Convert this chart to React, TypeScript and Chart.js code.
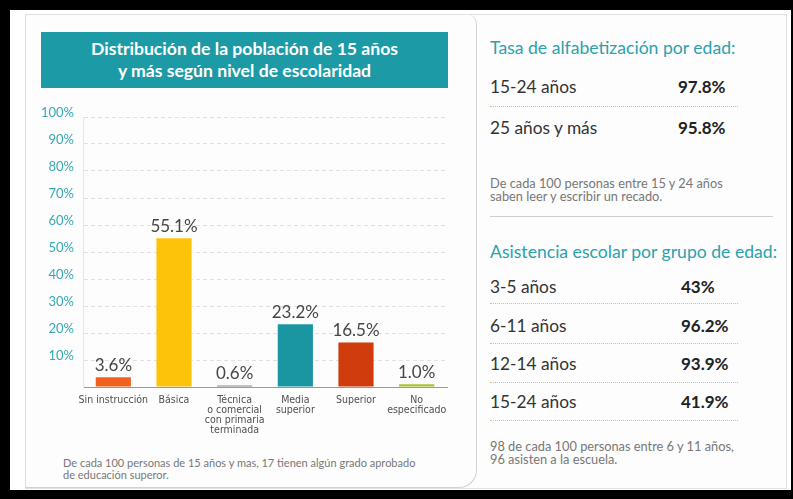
import React, { useEffect, useRef } from "react";
import { Chart, registerables } from "chart.js";

Chart.register(...registerables);

// ---- Data ----
const categories: string[][] = [
  ["Sin instrucción"],
  ["Básica"],
  ["Técnica", "o comercial", "con primaria", "terminada"],
  ["Media", "superior"],
  ["Superior"],
  ["No", "especificado"],
];
const shares: number[] = [3.6, 55.1, 0.6, 23.2, 16.5, 1.0];
const barColors: string[] = ["#f1601f", "#fdc30a", "#8a8a8a", "#1a96a3", "#d03c0b", "#a8c42c"];
const yTickValues: number[] = [10, 20, 30, 40, 50, 60, 70, 80, 90, 100];

const chartTitle: string[] = ["Distribución de la población de 15 años", "y más según nivel de escolaridad"];
const chartNote: string[] = [
  "De cada 100 personas de 15 años y mas, 17 tienen algún grado aprobado",
  "de educación superor.",
];

const literacyTitle = "Tasa de alfabetización por edad:";
const literacyGroups: string[] = ["15-24 años", "25 años y más"];
const literacyRates: number[] = [97.8, 95.8];
const literacyNote: string[] = ["De cada 100 personas entre 15 y 24 años", "saben leer y escribir un recado."];

const attendanceTitle = "Asistencia escolar por grupo de edad:";
const attendanceGroups: string[] = ["3-5 años", "6-11 años", "12-14 años", "15-24 años"];
const attendanceRates: number[] = [43, 96.2, 93.9, 41.9];
const attendanceNote: string[] = ["98 de cada 100 personas entre 6 y 11 años,", "96 asisten a la escuela."];

const FONT = "Lato, 'Open Sans', sans-serif";
const TEAL = "#1c9aa6";

const valueLabels = {
  id: "valueLabels",
  afterDatasetsDraw(chart: any) {
    const ctx = chart.ctx;
    const meta = chart.getDatasetMeta(0);
    ctx.save();
    ctx.font = `17px ${FONT}`;
    ctx.fillStyle = "#454545";
    ctx.textAlign = "center";
    ctx.textBaseline = "bottom";
    meta.data.forEach((bar: any, i: number) => {
      const v = chart.data.datasets[0].data[i] as number;
      ctx.fillText(v.toFixed(1) + "%", bar.x, bar.y - 3);
    });
    ctx.restore();
  },
};

function BarChart() {
  const ref = useRef<HTMLCanvasElement>(null);
  useEffect(() => {
    if (!ref.current) return;
    const chart = new Chart(ref.current, {
      type: "bar",
      data: {
        labels: categories,
        datasets: [
          {
            data: shares,
            backgroundColor: barColors,
            borderWidth: 0,
            barPercentage: 0.58,
            categoryPercentage: 1,
          },
        ],
      },
      options: {
        animation: false,
        responsive: false,
        devicePixelRatio: 1,
        layout: { padding: { top: 17, right: 8, left: 0, bottom: 0 } },
        plugins: { legend: { display: false }, tooltip: { enabled: false }, title: { display: false } },
        scales: {
          x: {
            grid: { display: false },
            border: { display: true, color: "#9a9a9a", width: 1 },
            ticks: {
              color: "#4f4f4f",
              padding: 0,
              maxRotation: 0,
              autoSkip: false,
              font: {
                family: "'DejaVu Sans Condensed', 'Liberation Sans Narrow', 'DejaVu Sans', sans-serif",
                weight: "condensed" as any,
                size: 10.5,
                lineHeight: 0.97,
              },
            },
            afterFit: (s: any) => {
              s.height = 58;
            },
          },
          y: {
            min: 0,
            max: 100,
            afterBuildTicks: (s: any) => {
              s.ticks = [0, ...yTickValues].map((v) => ({ value: v }));
            },
            grid: { color: "#e0e0e0", drawTicks: false, lineWidth: 1 },
            border: { display: true, color: "#e6e6e6", dash: [4, 3] },
            ticks: {
              color: "#36a8b3",
              padding: 9,
              labelOffset: -4,
              font: { family: FONT, size: 13 },
              callback: (v: any) => (v === 0 ? "" : v + "%"),
            },
            afterFit: (s: any) => {
              s.width = 53;
            },
          },
        },
      },
      plugins: [valueLabels],
    });
    return () => chart.destroy();
  }, []);
  return (
    <canvas
      ref={ref}
      width={425}
      height={345}
      style={{ position: "absolute", left: 30, top: 100, width: 425, height: 345 }}
    />
  );
}

function Row({ label, value, center, valueLeft }: { label: string; value: string; center: number; valueLeft: number }) {
  return (
    <>
      <div style={{ position: "absolute", left: 490, top: center - 11, height: 22, lineHeight: "22px", fontSize: 17.3, color: "#333" }}>
        {label}
      </div>
      <div
        style={{ position: "absolute", left: valueLeft, top: center - 11, height: 22, lineHeight: "22px", fontSize: 17, fontWeight: 700, color: "#222" }}
      >
        {value}
      </div>
    </>
  );
}

function Dots({ y }: { y: number }) {
  return <div style={{ position: "absolute", left: 490, top: y, width: 248, height: 0, borderTop: "1px dotted #cfc57f" }} />;
}

export default function App() {
  useEffect(() => {
    document.body.style.margin = "0";
  }, []);
  const litCenters = [87, 128];
  const attCenters = [287, 326, 364, 402];
  return (
    <div
      style={{
        position: "fixed",
        left: 0,
        top: 0,
        width: 793,
        height: 499,
        background: "#000",
        overflow: "hidden",
        fontFamily: FONT,
      }}
    >
      <div style={{ position: "absolute", left: 10, top: 10, width: 781, height: 480, background: "#fff" }} />
      <div
        style={{
          position: "absolute",
          left: 25,
          top: 14,
          width: 760,
          height: 473,
          border: "1px solid #e0e0e0",
          background: "#fdfdfd",
        }}
      />
      <div
        style={{
          position: "absolute",
          left: 25,
          top: 14,
          width: 451,
          height: 473,
          borderRight: "1px solid #d2d2d2",
          borderBottom: "1px solid #d2d2d2",
          borderBottomRightRadius: 18,
          borderTopRightRadius: 10,
        }}
      />
      <div
        style={{
          position: "absolute",
          left: 41,
          top: 32,
          width: 407,
          height: 56,
          background: TEAL,
          color: "#fff",
          fontWeight: 700,
          fontSize: 17.6,
          lineHeight: "22px",
          textAlign: "center",
          paddingTop: 6,
          boxSizing: "border-box",
          whiteSpace: "nowrap",
        }}
      >
        {chartTitle.map((t, i) => (
          <div key={i}>{t}</div>
        ))}
      </div>
      <BarChart />
      <div style={{ position: "absolute", left: 63, top: 457, fontSize: 11, lineHeight: "12px", color: "#777" }}>
        {chartNote.map((t, i) => (
          <div key={i}>{t}</div>
        ))}
      </div>

      <div style={{ position: "absolute", left: 490, top: 37, fontSize: 17.6, lineHeight: "22px", color: "#2aa2ad", whiteSpace: "nowrap" }}>
        {literacyTitle}
      </div>
      {literacyGroups.map((g, i) => (
        <Row key={g} label={g} value={literacyRates[i].toFixed(1) + "%"} center={litCenters[i]} valueLeft={678} />
      ))}
      <Dots y={106} />
      <div style={{ position: "absolute", left: 490, top: 177, fontSize: 12.8, lineHeight: "13px", color: "#777", whiteSpace: "nowrap" }}>
        {literacyNote.map((t, i) => (
          <div key={i}>{t}</div>
        ))}
      </div>
      <div style={{ position: "absolute", left: 490, top: 216, width: 283, height: 0, borderTop: "1px solid #cfcfcf" }} />

      <div style={{ position: "absolute", left: 490, top: 241, fontSize: 17.6, lineHeight: "22px", color: "#2aa2ad", whiteSpace: "nowrap" }}>
        {attendanceTitle}
      </div>
      {attendanceGroups.map((g, i) => (
        <Row key={g} label={g} value={attendanceRates[i] + "%"} center={attCenters[i]} valueLeft={681} />
      ))}
      {[303, 343, 382, 420].map((y) => (
        <Dots key={y} y={y} />
      ))}
      <div style={{ position: "absolute", left: 490, top: 440, fontSize: 12.8, lineHeight: "13px", color: "#777", whiteSpace: "nowrap" }}>
        {attendanceNote.map((t, i) => (
          <div key={i}>{t}</div>
        ))}
      </div>
    </div>
  );
}
